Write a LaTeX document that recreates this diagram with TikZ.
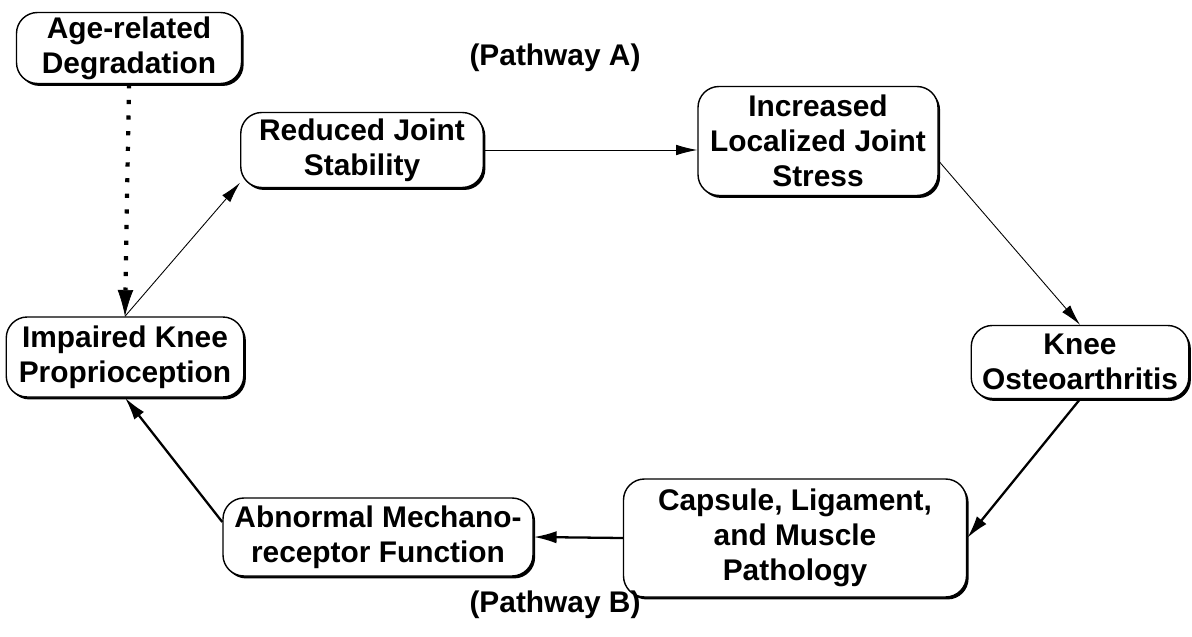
\documentclass[tikz,border=0pt]{standalone}
\usepackage{fontspec}
\setmainfont{Liberation Sans}
\usetikzlibrary{arrows.meta, shadows, positioning}

\begin{document}
\begin{tikzpicture}[
    font=\fontsize{17}{20}\selectfont\bfseries,
    stepbox/.style={draw, line width=0.8pt, rounded corners=0.42cm, fill=white, align=center,
        inner sep=2pt, drop shadow={shadow xshift=1.2pt, shadow yshift=-1.4pt, opacity=1, fill=black}},
    thinarrow/.style={-{Latex[length=12pt, width=6pt]}, line width=0.5pt},
    thickarrow/.style={-{Latex[length=13pt, width=7pt]}, line width=1.3pt},
    dotarrow/.style={-{Latex[length=15pt, width=9pt, line width=0.4pt]}, line width=2.4pt, dash pattern=on 2.4pt off 6.5pt}
  ]
  \useasboundingbox (0,0) rectangle (23.84,12.72);

  \node[stepbox, minimum width=4.5cm, minimum height=1.42cm] (age) at (2.58,11.76) {Age-related\\Degradation};
  \node[stepbox, minimum width=4.85cm, minimum height=1.5cm] (red) at (7.24,9.72) {Reduced Joint\\Stability};
  \node[stepbox, minimum width=4.8cm, minimum height=2.18cm] (inc) at (16.36,9.9) {Increased\\Localized Joint\\Stress};
  \node[stepbox, minimum width=4.35cm, minimum height=1.46cm] (koa) at (21.6,5.48) {Knee\\Osteoarthritis};
  \node[stepbox, minimum width=6.86cm, minimum height=2.36cm] (cap) at (15.9,1.96) {Capsule, Ligament,\\and Muscle\\Pathology};
  \node[stepbox, minimum width=6.2cm, minimum height=1.56cm] (abn) at (7.56,1.98) {Abnormal Mechano-\\receptor Function};
  \node[stepbox, minimum width=4.75cm, minimum height=1.6cm] (imp) at (2.5,5.58) {Impaired Knee\\Proprioception};

  \node (pathA) at (11.1,11.56) {(Pathway A)};
  \node (pathB) at (11.1,0.62) {(Pathway B)};

  % pathway A
  \draw[dotarrow] (age.south) -- (imp.north);
  \draw[thinarrow] (imp.north) -- (red.195);
  \draw[thinarrow] (red.east) -- (red.east -| inc.west);
  \draw[thinarrow] ([yshift=-0.4cm]inc.east) -- (koa.north);
  % pathway B
  \draw[thickarrow] (koa.south) -- (cap.east);
  \draw[thickarrow] (cap.west) -- (abn.east);
  \draw[thickarrow] ([yshift=0.3cm]abn.west) -- (imp.south);
\end{tikzpicture}
\end{document}
